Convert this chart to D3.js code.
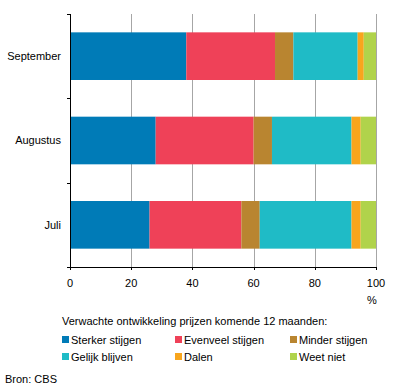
<!DOCTYPE html>
<html>
<head>
<meta charset="utf-8">
<script src="https://cdnjs.cloudflare.com/ajax/libs/d3/7.8.5/d3.min.js"></script>
<style>
  body { margin: 0; background: #fff; }
  text { font-family: "Liberation Sans", Arial, sans-serif; font-size: 11px; fill: #000; }
</style>
</head>
<body>
<div id="chart"></div>
<script>
// maanden (van boven naar beneden)
var months = ["September", "Augustus", "Juli"];
// antwoordcategorieën
var series = ["Sterker stijgen", "Evenveel stijgen", "Minder stijgen", "Gelijk blijven", "Dalen", "Weet niet"];
var colors = ["#007bb7", "#ef4158", "#b98530", "#1fbbc6", "#f8a51d", "#b0d34b"];
// percentages per maand, zelfde volgorde als series
var september = [38, 29, 6, 21, 2, 4];
var augustus = [28, 32, 6, 26, 3, 5];
var juli = [26, 30, 6, 30, 3, 5];
var xTicks = [0, 20, 40, 60, 80, 100];

var values = { "September": september, "Augustus": augustus, "Juli": juli };

var width = 396, height = 390;
var margin = {top: 14, right: 20, bottom: 123, left: 70};
var w = width - margin.left - margin.right;
var h = height - margin.top - margin.bottom;

var svg = d3.select("#chart").append("svg")
    .attr("width", width)
    .attr("height", height);

var g = svg.append("g")
    .attr("transform", "translate(" + margin.left + "," + margin.top + ")");

var x = d3.scaleLinear().domain([0, 100]).range([0, w]);
var y = d3.scaleBand().domain(months).range([0, h])
    .paddingInner(0.435).paddingOuter(0.2175);

// stacked data
var rows = months.map(function(m) {
    var row = {month: m};
    series.forEach(function(s, i) { row[s] = values[m][i]; });
    return row;
});
var stack = d3.stack().keys(series)(rows);

// gridlines
g.selectAll(".grid")
    .data(xTicks.slice(1))
    .enter().append("line")
    .attr("x1", function(d) { return Math.round(x(d)) + 0.5; })
    .attr("x2", function(d) { return Math.round(x(d)) + 0.5; })
    .attr("y1", 0)
    .attr("y2", h)
    .attr("stroke", "#a6a6a6")
    .attr("stroke-width", 1);

// bars
g.selectAll(".serie")
    .data(stack)
    .enter().append("g")
    .attr("fill", function(d, i) { return colors[i]; })
    .selectAll("rect")
    .data(function(d) { return d; })
    .enter().append("rect")
    .attr("x", function(d) { return x(d[0]); })
    .attr("width", function(d) { return x(d[1]) - x(d[0]); })
    .attr("y", function(d) { return y(d.data.month); })
    .attr("height", y.bandwidth());

// y axis line + ticks at band boundaries
var step = y.step();
g.append("line")
    .attr("x1", 0.5).attr("x2", 0.5)
    .attr("y1", 0).attr("y2", h + 3)
    .attr("stroke", "#000");
g.selectAll(".ytick")
    .data(d3.range(months.length + 1))
    .enter().append("line")
    .attr("x1", -3).attr("x2", 0)
    .attr("y1", function(d) { return Math.round(d * step) + 0.5; })
    .attr("y2", function(d) { return Math.round(d * step) + 0.5; })
    .attr("stroke", "#000");

g.selectAll(".ylabel")
    .data(months)
    .enter().append("text")
    .attr("x", -9)
    .attr("y", function(d) { return y(d) + y.bandwidth() / 2; })
    .attr("dy", "0.35em")
    .attr("text-anchor", "end")
    .text(function(d) { return d; });

// x axis
g.append("line")
    .attr("x1", -3).attr("x2", w)
    .attr("y1", h + 0.5).attr("y2", h + 0.5)
    .attr("stroke", "#000");
g.selectAll(".xtick")
    .data(xTicks)
    .enter().append("line")
    .attr("x1", function(d) { return Math.round(x(d)) + 0.5; })
    .attr("x2", function(d) { return Math.round(x(d)) + 0.5; })
    .attr("y1", h).attr("y2", h + 3)
    .attr("stroke", "#000");
g.selectAll(".xlabel")
    .data(xTicks)
    .enter().append("text")
    .attr("x", function(d) { return x(d); })
    .attr("y", h + 20)
    .attr("text-anchor", "middle")
    .text(function(d) { return d; });
g.append("text")
    .attr("x", w - 4)
    .attr("y", h + 37)
    .attr("text-anchor", "middle")
    .text("%");

// legend
svg.append("text")
    .attr("x", 62)
    .attr("y", 325)
    .text("Verwachte ontwikkeling prijzen komende 12 maanden:");

var colX = [62, 175, 290];
var legend = svg.selectAll(".legend")
    .data(series)
    .enter().append("g")
    .attr("transform", function(d, i) {
        return "translate(" + colX[i % 3] + "," + (336 + Math.floor(i / 3) * 17) + ")";
    });
legend.append("rect")
    .attr("width", 7).attr("height", 7)
    .attr("fill", function(d, i) { return colors[i]; });
legend.append("text")
    .attr("x", 9)
    .attr("y", 7.5)
    .text(function(d) { return d; });

svg.append("text")
    .attr("x", 5)
    .attr("y", 383)
    .text("Bron: CBS");
</script>
</body>
</html>
